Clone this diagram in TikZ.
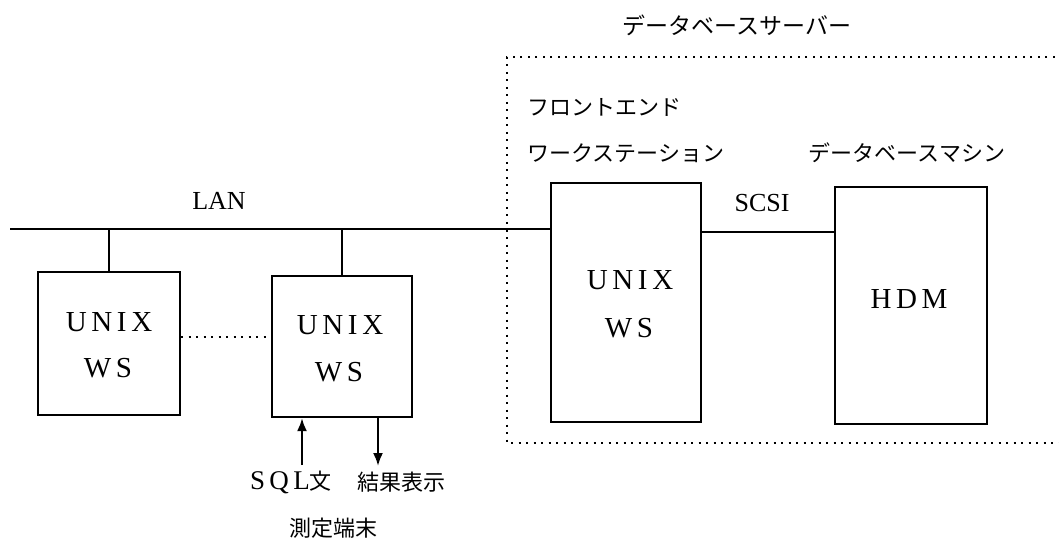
\documentclass[tikz,border=0pt]{standalone}
\usepackage{fontspec}
\setmainfont{Liberation Serif}
\newfontfamily\jp{Noto Sans CJK JP}
\newfontfamily\wide[LetterSpace=16]{Liberation Serif}
\usetikzlibrary{arrows.meta}
\begin{document}
\begin{tikzpicture}[x=1pt,y=-1pt,
  box/.style={draw,line width=2.2pt,minimum width=#1,inner sep=0pt},
  wtxt/.style={font=\fontsize{29}{31}\selectfont\wide,inner sep=0pt},
  jtxt/.style={font=\fontsize{22}{24}\selectfont\jp,inner sep=0pt},
  ltxt/.style={font=\fontsize{26}{28}\selectfont,inner sep=0pt},
  wire/.style={line width=2.2pt},
  dots/.style={line width=2.2pt,dash pattern=on 2pt off 5.5pt},
  arr/.style={line width=2.2pt,-{Latex[length=13pt,width=10pt]}}]
\useasboundingbox[fill=white] (0,0) rectangle (1059,540);
% boxes
\node[box=142pt,minimum height=143pt] (b1) at (109,343.5) {};
\node[box=140pt,minimum height=141pt] (b2) at (342,346.5) {};
\node[box=150pt,minimum height=239pt] (fe) at (626,302.5) {};
\node[box=152pt,minimum height=237pt] (hdm) at (911,305.5) {};
% LAN
\coordinate (lanL) at (10,229);
\draw[wire] (lanL) -- (fe.west |- lanL);
\draw[wire] (b1.north) -- (b1.north |- lanL);
\draw[wire] (b2.north) -- (b2.north |- lanL);
\node[ltxt] (lan) at (219,201) {LAN};
% dotted between workstations
\draw[dots] (b1.east |- 0,337) -- (b2.west |- 0,337);
% SCSI
\coordinate (sc) at (0,232);
\draw[wire] (fe.east |- sc) -- (hdm.west |- sc);
\node[ltxt] (scsi) at (762,203) {SCSI};
% server dotted frame
\coordinate (s1) at (1062,57);
\coordinate (s2) at (507,57);
\coordinate (s3) at (507,443);
\coordinate (s4) at (1062,443);
\draw[dots] (s1) -- (s2) -- (s3) -- (s4);
% texts in boxes
\node[wtxt] (u1) at (109,322) {UNIX};
\node[wtxt] (w1) at (108,368) {WS};
\node[wtxt] (u2) at (340,325) {UNIX};
\node[wtxt] (w2) at (339,372) {WS};
\node[wtxt] (u3) at (630,280) {UNIX};
\node[wtxt] (w3) at (629,328) {WS};
\node[wtxt] (h) at (909,299) {HDM};
% labels
\node[jtxt,font=\fontsize{23}{25}\selectfont\jp] (dbs) at (737,25) {データベースサーバー};
\node[jtxt,anchor=west] (fe1) at (527,107) {フロントエンド};
\node[jtxt,anchor=west] (fe2) at (527,153) {ワークステーション};
\node[jtxt] (dbm) at (907,153) {データベースマシン};
% arrows
\coordinate (sqlb) at (302,465);
\coordinate (resb) at (378,466);
\draw[arr] (sqlb) -- (sqlb |- b2.south);
\draw[arr] (b2.south -| resb) -- (resb);
\node[inner sep=0pt] (sql) at (291,482) {{\fontsize{27}{29}\selectfont\wide SQL}{\fontsize{22}{24}\selectfont\jp 文}};
\node[jtxt] (res) at (401,482) {結果表示};
\node[jtxt] (sok) at (333,528) {測定端末};
\end{tikzpicture}
\end{document}
